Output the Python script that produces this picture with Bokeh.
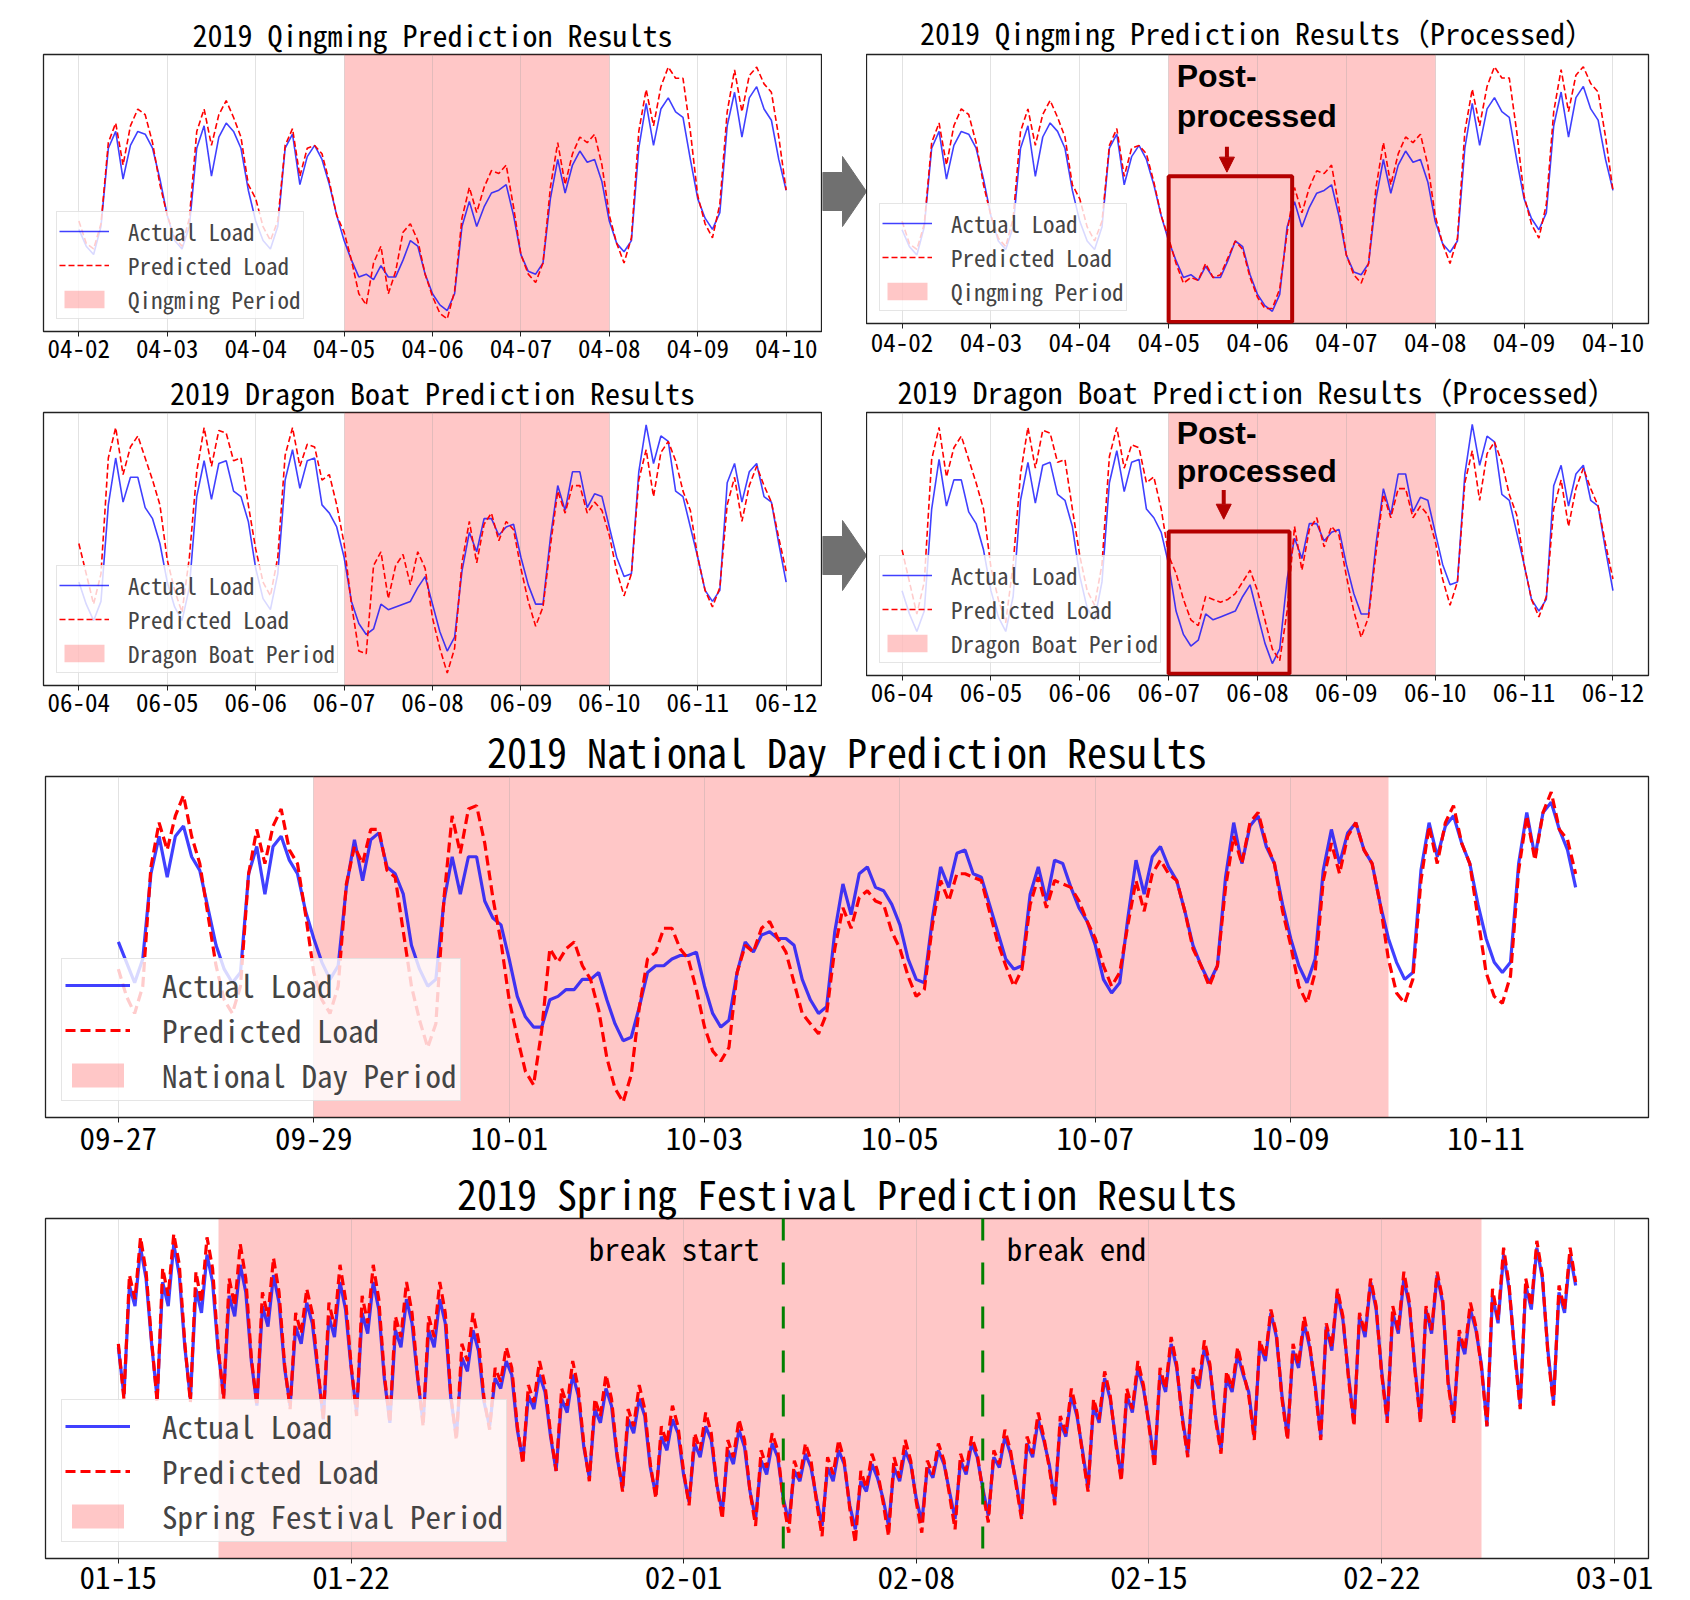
from bokeh.plotting import figure
from bokeh.models import (ColumnDataSource, DataRange1d, Range1d, FixedTicker, Legend, LegendItem,
                          BoxAnnotation, Label, Arrow, NormalHead, Span)
from bokeh.layouts import column, row
from bokeh.embed import file_html
from bokeh.resources import INLINE

MONO = "Noto Sans Mono CJK SC"
BOLD = "Liberation Sans"

# ---------------- Qingming (2-hour steps from 04-02 00:00) ----------------
QM_TICKS = ["04-02", "04-03", "04-04", "04-05", "04-06", "04-07", "04-08", "04-09", "04-10"]
QM_PERIOD = [3, 6]
QM_ACTUAL = [
    37, 31, 28, 38, 66, 72, 55, 67, 72, 71, 66, 55,
    42, 33, 30, 38, 66, 74, 56, 70, 75, 72, 66, 51,
    40, 33, 30, 38, 66, 71, 53, 63, 67, 62, 53, 42,
    33, 26, 20, 21, 19, 24, 20, 20, 26, 33, 31, 21,
    14, 10, 8, 14, 38, 47, 38, 45, 50, 51, 53, 42,
    28, 22, 21, 25, 48, 62, 50, 60, 65, 61, 62, 54,
    40, 32, 29, 33, 66, 82, 67, 80, 84, 79, 77, 62,
    48, 41, 37, 43, 74, 86, 70, 84, 88, 80, 76, 62,
    51]
QM_PRED = [
    40, 32, 30, 39, 68, 75, 60, 74, 80, 78, 68, 53,
    42, 34, 31, 41, 72, 80, 67, 78, 83, 77, 70, 53,
    48, 38, 33, 40, 67, 73, 56, 66, 67, 64, 54, 42,
    36, 26, 14, 10, 25, 31, 14, 22, 36, 39, 33, 21,
    13, 7, 5, 15, 41, 52, 43, 52, 58, 57, 60, 45,
    28, 21, 18, 25, 52, 68, 53, 64, 70, 68, 71, 60,
    42, 32, 25, 34, 72, 87, 74, 88, 95, 91, 91, 72,
    49, 39, 34, 46, 79, 94, 79, 92, 95, 89, 86, 70,
    51]
# post-processed prediction, 04-05 00:00 .. 04-06 08:00
QM_PRED_PROCESSED_SEG = [34, 25, 18, 20, 19, 25, 20, 21, 27, 33, 30, 20, 13, 9, 9, 16, 36]
QM_BOX = [3.0, 4.39]

# ---------------- Dragon Boat (2-hour steps from 06-04 00:00) ----------------
DB_TICKS = ["06-04", "06-05", "06-06", "06-07", "06-08", "06-09", "06-10", "06-11", "06-12"]
DB_PERIOD = [3, 6]
DB_ACTUAL = [
    38, 30, 24, 31, 66, 83, 67, 76, 76, 65, 61, 52,
    38, 29, 24, 36, 69, 82, 68, 81, 82, 71, 69, 60,
    43, 32, 28, 41, 75, 86, 72, 82, 83, 66, 63, 58,
    47, 31, 23, 19, 21, 30, 28, 29, 30, 31, 36, 40,
    30, 20, 13, 18, 42, 56, 49, 61, 61, 55, 58, 59,
    47, 37, 30, 30, 54, 73, 64, 78, 78, 65, 70, 69,
    58, 47, 40, 41, 78, 95, 81, 91, 89, 71, 69, 58,
    47, 35, 31, 35, 74, 81, 67, 78, 81, 69, 67, 52,
    38]
DB_PRED = [
    52, 41, 30, 41, 83, 94, 77, 87, 91, 83, 75, 66,
    46, 35, 27, 47, 78, 94, 80, 93, 92, 82, 83, 66,
    50, 38, 33, 47, 84, 94, 80, 88, 87, 75, 77, 66,
    52, 30, 13, 12, 44, 49, 32, 44, 48, 37, 49, 43,
    25, 14, 5, 14, 45, 60, 45, 59, 63, 53, 60, 57,
    43, 31, 22, 29, 51, 71, 63, 73, 73, 63, 67, 64,
    55, 42, 33, 41, 75, 86, 69, 85, 89, 82, 71, 64,
    47, 35, 29, 36, 66, 76, 60, 73, 80, 73, 67, 54,
    42]
DB_PRED_PROCESSED_SEG = [50, 44, 35, 28, 26, 36, 35, 34, 35, 37, 41, 45, 38, 28, 18, 14, 31]
DB_BOX = [3.0, 4.36]

# ---------------- National Day (2-hour steps from 09-27 00:00) ----------------
ND_TICKS = ["09-27", "09-29", "10-01", "10-03", "10-05", "10-07", "10-09", "10-11"]
ND_PERIOD = [2, 13]
ND_ACTUAL = [
    52, 46, 40, 47, 72, 83, 71, 83, 86, 77, 73, 62,
    51, 44, 40, 43, 72, 80, 66, 80, 83, 76, 72, 61,
    53, 46, 41, 45, 68, 82, 70, 82, 84, 74, 72, 66,
    51, 44, 39, 41, 64, 77, 66, 77, 77, 64, 59, 57,
    47, 36, 30, 27, 27, 35, 36, 38, 38, 41, 41, 43,
    35, 28, 23, 24, 33, 43, 45, 45, 47, 48, 48, 49,
    39, 31, 27, 29, 43, 52, 49, 54, 55, 53, 53, 51,
    41, 35, 31, 33, 55, 69, 60, 72, 74, 68, 67, 63,
    57, 47, 41, 40, 59, 74, 68, 78, 79, 72, 71, 63,
    55, 47, 44, 45, 66, 74, 64, 76, 75, 68, 62, 58,
    51, 41, 37, 40, 59, 76, 66, 77, 80, 74, 70, 61,
    51, 45, 40, 45, 71, 87, 75, 86, 89, 80, 75, 63,
    53, 45, 40, 47, 73, 85, 75, 84, 87, 79, 75, 63,
    53, 46, 41, 43, 73, 87, 77, 86, 89, 81, 75, 63,
    53, 46, 43, 46, 75, 90, 77, 90, 93, 85, 79, 68]
ND_PRED = [
    44, 36, 31, 39, 74, 87, 79, 89, 95, 83, 75, 60,
    45, 35, 31, 39, 72, 85, 75, 86, 91, 79, 75, 60,
    43, 35, 31, 39, 69, 80, 75, 85, 85, 73, 71, 55,
    39, 29, 21, 28, 65, 89, 78, 91, 92, 81, 65, 52,
    35, 24, 14, 10, 26, 50, 46, 50, 52, 45, 41, 32,
    18, 9, 5, 13, 33, 47, 49, 56, 56, 50, 47, 38,
    27, 20, 17, 21, 43, 51, 49, 56, 58, 53, 49, 40,
    31, 28, 25, 31, 50, 62, 56, 65, 67, 64, 63, 55,
    50, 42, 36, 38, 57, 70, 64, 72, 72, 71, 70, 61,
    52, 45, 39, 44, 63, 71, 62, 70, 69, 68, 64, 58,
    53, 45, 39, 43, 57, 70, 61, 72, 76, 72, 70, 61,
    50, 45, 39, 45, 68, 83, 75, 87, 90, 81, 75, 61,
    51, 39, 34, 43, 70, 81, 72, 83, 87, 79, 75, 63,
    47, 37, 34, 41, 70, 86, 75, 87, 92, 81, 75, 59,
    43, 36, 34, 42, 73, 89, 76, 90, 96, 85, 82, 72]

# ---------------- Spring Festival (4-hour steps from 01-15 00:00) ----------------
SF_TICK_DAYS = [0, 7, 17, 24, 31, 38, 45]
SF_TICKS = ["01-15", "01-22", "02-01", "02-08", "02-15", "02-22", "03-01"]
SF_PERIOD = [3, 41]
SF_BREAK_START = 20
SF_BREAK_END = 26
SF_ACTUAL = [
    62, 48, 80, 74, 91, 82,   63, 47, 81, 74, 92, 83,   62, 47, 79, 72, 89, 81,
    61, 48, 77, 71, 86, 78,   58, 45, 74, 68, 83, 75,   56, 45, 68, 63, 75, 69,
    55, 41, 71, 65, 81, 73,   56, 43, 72, 66, 81, 73,   53, 40, 67, 62, 76, 69,
    53, 40, 67, 62, 76, 69,   47, 36, 59, 55, 67, 61,   46, 39, 53, 50, 58, 54,
    38, 29, 48, 44, 54, 49,   36, 26, 47, 43, 54, 48,   33, 24, 44, 40, 50, 45,
    30, 21, 41, 37, 47, 42,   27, 19, 36, 32, 41, 37,   25, 17, 34, 30, 39, 35,
    22, 14, 32, 28, 38, 33,   20, 12, 29, 25, 34, 30,   18, 11, 26, 23, 31, 27,
    18, 10, 27, 23, 32, 28,   16, 9, 23, 20, 28, 24,    18, 10, 27, 23, 32, 28,
    18, 11, 27, 24, 32, 28,   20, 12, 29, 25, 34, 30,   21, 13, 30, 27, 36, 31,
    23, 13, 34, 30, 41, 35,   28, 17, 40, 36, 48, 42,   32, 21, 45, 40, 53, 47,
    35, 24, 48, 43, 56, 50,   40, 28, 54, 49, 63, 56,   42, 31, 54, 50, 62, 56,
    42, 32, 53, 49, 60, 54,   49, 36, 63, 58, 72, 65,   48, 36, 61, 56, 69, 62,
    51, 36, 68, 61, 78, 70,   54, 40, 71, 65, 81, 73,   55, 41, 72, 66, 82, 74,
    56, 41, 73, 66, 83, 75,   52, 41, 65, 60, 73, 67,   57, 39, 77, 69, 89, 79,
    61, 45, 80, 73, 91, 82,   61, 46, 78, 72, 89, 80]
SF_PRED = [
    63, 47, 83, 76, 94, 84,   64, 46, 85, 77, 95, 86,   63, 46, 84, 75, 94, 85,
    62, 47, 82, 74, 92, 82,   59, 45, 78, 71, 88, 78,   57, 44, 72, 66, 79, 72,
    56, 41, 75, 68, 86, 76,   57, 42, 77, 69, 86, 76,   54, 40, 71, 65, 81, 72,
    54, 39, 71, 65, 81, 72,   48, 35, 63, 58, 72, 64,   47, 38, 56, 52, 62, 56,
    39, 28, 51, 46, 58, 51,   37, 26, 50, 45, 58, 50,   34, 23, 47, 42, 54, 47,
    31, 20, 44, 39, 51, 44,   28, 18, 39, 34, 45, 39,   26, 16, 37, 32, 43, 37,
    22, 12, 35, 30, 41, 35,   20, 10, 32, 27, 37, 32,   17, 8, 29, 24, 34, 29,
    17, 7, 30, 25, 35, 29,    15, 5, 26, 21, 31, 26,    17, 7, 30, 24, 35, 29,
    17, 8, 29, 25, 34, 29,    19, 9, 31, 26, 36, 31,    20, 11, 32, 28, 38, 32,
    22, 12, 36, 31, 43, 36,   27, 16, 42, 37, 50, 43,   31, 20, 47, 41, 55, 48,
    34, 23, 50, 44, 58, 51,   39, 27, 56, 50, 65, 57,   41, 30, 56, 51, 64, 57,
    41, 31, 55, 50, 62, 55,   48, 35, 64, 59, 73, 66,   47, 35, 63, 57, 71, 63,
    50, 35, 69, 62, 79, 71,   53, 39, 72, 66, 82, 74,   54, 40, 74, 67, 84, 75,
    55, 40, 74, 67, 84, 76,   51, 40, 67, 61, 75, 68,   56, 39, 79, 70, 91, 80,
    60, 44, 82, 74, 93, 83,   60, 45, 80, 73, 91, 81]

# decorative grey block arrow outline (pixels inside the 44 px connector panel)
ARROW_X = [0, 20, 20, 44, 20, 20, 0]
ARROW_DY = [-19, -19, -35, 0, 35, 19, 19]


def make_panel(title, actual, pred, step_h, tick_days, tick_labels, period, period_label,
               fw, fh, mbl, mbr, mbt, mbb, title_standoff, tick_standoff, big):
    n = len(actual)
    x = [i * step_h / 24.0 for i in range(n)]
    src = ColumnDataSource(dict(x=x, actual=actual, pred=pred))
    p = figure(frame_width=fw, frame_height=fh, output_backend="svg", toolbar_location=None,
               min_border_left=mbl, min_border_right=mbr, min_border_top=mbt, min_border_bottom=mbb,
               x_range=DataRange1d(range_padding=0.1), y_range=DataRange1d(range_padding=0.1))
    lw = 3.2 if big else 1.6
    dash = "10 5" if big else "6 3"
    rq = p.vstrip(x0=[period[0]], x1=[period[1]], fill_color="red", fill_alpha=0.22,
                  line_color=None, level="image")
    ra = p.line("x", "actual", source=src, line_color="blue", line_alpha=0.75, line_width=lw)
    rp = p.line("x", "pred", source=src, line_color="red", line_width=lw, line_dash=dash)
    p.x_range.renderers = [ra, rp]
    p.y_range.renderers = [ra, rp]

    p.title.text = title
    p.title.align = "center"
    p.title.text_font = MONO
    p.title.text_font_style = "normal"
    p.title.text_font_size = "40px" if big else "30px"
    p.title.text_color = "black"
    p.title.standoff = title_standoff

    p.yaxis.visible = False
    ax = p.xaxis[0]
    ax.ticker = FixedTicker(ticks=tick_days)
    ax.major_label_overrides = {d: l for d, l in zip(tick_days, tick_labels)}
    ax.major_label_text_font = MONO
    ax.major_label_text_font_size = "31px" if big else "25px"
    ax.major_label_text_color = "black"
    ax.major_label_standoff = tick_standoff
    ax.major_tick_out = 5
    ax.major_tick_in = 0
    ax.minor_tick_line_color = None
    ax.axis_line_color = "#222222"
    ax.major_tick_line_color = "#222222"

    p.xgrid.grid_line_color = "#a0a0a0"
    p.xgrid.grid_line_alpha = 0.3
    p.ygrid.visible = False
    p.outline_line_color = "#222222"
    p.outline_line_width = 1.3
    p.background_fill_color = "white"
    p.border_fill_color = "white"

    leg = Legend(items=[LegendItem(label="Actual Load", renderers=[ra]),
                        LegendItem(label="Predicted Load", renderers=[rp]),
                        LegendItem(label=period_label, renderers=[rq])])
    leg.label_text_font = MONO
    leg.background_fill_color = "white"
    leg.background_fill_alpha = 0.8
    leg.border_line_color = "#cccccc"
    leg.border_line_width = 1
    leg.margin = 0
    leg.spacing = 0
    if big:
        leg.location = (16, 16)
        leg.padding = 3
        leg.label_text_font_size = "31px"
        leg.glyph_width = 65
        leg.glyph_height = 30
        leg.label_height = 30
        leg.label_standoff = 32
    else:
        leg.location = (13, 12)
        leg.padding = 2
        leg.label_text_font_size = "23px"
        leg.glyph_width = 50
        leg.glyph_height = 22
        leg.label_height = 22
        leg.label_standoff = 19
    p.add_layout(leg)
    return p


def add_post_processed(p, box, box_top, box_bottom, arrow_x, arrow_y0, arrow_y1, ty1, ty2):
    dark = "#b40000"
    p.add_layout(BoxAnnotation(left=box[0], right=box[1], top=box_top, bottom=box_bottom,
                               fill_alpha=0, line_color=dark, line_alpha=1, line_width=4))
    p.add_layout(Arrow(end=NormalHead(size=15, fill_color=dark, line_color=dark),
                       x_start=arrow_x, y_start=arrow_y0, x_end=arrow_x, y_end=arrow_y1,
                       line_color=dark, line_width=4))
    for txt, yy in (("Post-", ty1), ("processed", ty2)):
        p.add_layout(Label(x=box[0] + 0.09, y=yy, text=txt, text_font=BOLD, text_font_style="bold",
                           text_font_size="32px", text_color="black", text_baseline="middle"))


def connector(fh, mbt, mbb, cy):
    f = figure(frame_width=44, frame_height=fh, output_backend="svg", toolbar_location=None,
               x_range=Range1d(0, 44), y_range=Range1d(0, fh),
               min_border_left=0, min_border_right=0, min_border_top=mbt, min_border_bottom=mbb)
    f.axis.visible = False
    f.grid.visible = False
    f.outline_line_color = None
    f.border_fill_color = "white"
    f.patch(ARROW_X, [cy + d for d in ARROW_DY], fill_color="#707070", line_color="#707070")
    return f


qm_proc = QM_PRED[:36] + QM_PRED_PROCESSED_SEG + QM_PRED[36 + len(QM_PRED_PROCESSED_SEG):]
db_proc = DB_PRED[:36] + DB_PRED_PROCESSED_SEG + DB_PRED[36 + len(DB_PRED_PROCESSED_SEG):]
small_days = list(range(9))

# row 1: canvas 0..367, frames from y=54
pA = make_panel("2019 Qingming Prediction Results", QM_ACTUAL, QM_PRED, 2, small_days, QM_TICKS,
                QM_PERIOD, "Qingming Period", 778, 277, 43, 1, 54, 36, -2, 2, False)
pB = make_panel("2019 Qingming Prediction Results（Processed）", QM_ACTUAL, qm_proc, 2, small_days, QM_TICKS,
                QM_PERIOD, "Qingming Period", 782, 269, 0, 30, 54, 44, 1, 4, False)
add_post_processed(pB, QM_BOX, 56, 4.2, 3.656, 66.5, 57.5, 91.7, 77.5)

# row 2: canvas 367..722, frames from y=412
pC = make_panel("2019 Dragon Boat Prediction Results", DB_ACTUAL, DB_PRED, 2, small_days, DB_TICKS,
                DB_PERIOD, "Dragon Boat Period", 778, 273, 43, 1, 45, 37, -3, 2, False)
pD = make_panel("2019 Dragon Boat Prediction Results（Processed）", DB_ACTUAL, db_proc, 2, small_days, DB_TICKS,
                DB_PERIOD, "Dragon Boat Period", 782, 263, 0, 30, 45, 47, -1, 2, False)
add_post_processed(pD, DB_BOX, 58.3, 9.5, 3.62, 72.5, 62.5, 92.2, 79.2)

# national day: canvas 722..1165
pE = make_panel("2019 National Day Prediction Results", ND_ACTUAL, ND_PRED, 2, list(range(0, 16, 2)), ND_TICKS,
                ND_PERIOD, "National Day Period", 1603, 341, 45, 30, 54, 48, -6, 4, True)

# spring festival: canvas 1165..1600
pF = make_panel("2019 Spring Festival Prediction Results", SF_ACTUAL, SF_PRED, 4, SF_TICK_DAYS, SF_TICKS,
                SF_PERIOD, "Spring Festival Period", 1603, 340, 45, 30, 53, 42, -7, 2, True)
for loc, txt, align, off in ((SF_BREAK_START, "break start", "right", -24), (SF_BREAK_END, "break end", "left", 24)):
    pF.add_layout(Span(location=loc, dimension="height", line_color="green", line_width=3, line_dash="22 22"))
    pF.add_layout(Label(x=loc, y=91, x_offset=off, text=txt, text_align=align, text_baseline="middle",
                        text_font=MONO, text_font_size="31px", text_color="black"))

layout = column(row(pA, connector(277, 54, 36, 140), pB),
                row(pC, connector(273, 45, 37, 130), pD),
                pE, pF)

open("out.html", "w").write(file_html(layout, INLINE))
